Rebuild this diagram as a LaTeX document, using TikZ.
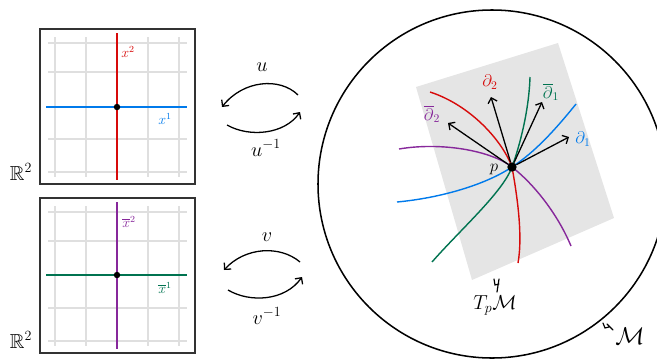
\documentclass[tikz,border=0pt]{standalone}
\usepackage{amssymb}
\usetikzlibrary{arrows.meta,calc}
\definecolor{cred}{RGB}{215,10,10}
\definecolor{cblue}{RGB}{0,122,235}
\definecolor{cgreen}{RGB}{0,115,80}
\definecolor{cpurple}{RGB}{135,40,155}
\tikzset{
  grd/.style={draw=gray!25,line width=1.6pt},
  chart/.style={draw=black!80,line width=1.2pt},
  ax/.style={line width=1pt},
  crv/.style={line width=1.2pt},
  tang/.style={-{Straight Barb[length=4pt,width=8pt]},line width=1.1pt},
  mapto/.style={-{Straight Barb[length=4pt,width=8pt]},line width=1.1pt},
  dot/.style={circle,fill=black,inner sep=0pt,minimum size=5.5pt},
}

\begin{document}
\begin{tikzpicture}[x=0.03cm,y=-0.03cm,font=\Large]
  \useasboundingbox (0,0) rectangle (657,359);
  % chart u
  \foreach \gx in {55,86,148,179} \draw[grd] (\gx,37) -- (\gx,177);
  \foreach \gy in {43,72,139,172} \draw[grd] (48,\gy) -- (187,\gy);
  \draw[chart] (40,29) rectangle (195,184);
  \draw[ax,cred] (117,33) -- (117,180);
  \draw[ax,cblue] (46,107) -- (187,107);
  \node[dot] (o1) at (117,107) {};
  \node[cred,font=\large] (x2) at (128,52) {$x^2$};
  \node[cblue,font=\large] (x1) at (165,119) {$x^1$};
  \node[font=\LARGE] (r1) at (21,172) {$\mathbb{R}^2$};
  % chart v
  \foreach \gx in {55,86,148,179} \draw[grd] (\gx,206) -- (\gx,346);
  \foreach \gy in {212,241,308,341} \draw[grd] (48,\gy) -- (187,\gy);
  \draw[chart] (40,198) rectangle (195,353);
  \draw[ax,cpurple] (117,202) -- (117,349);
  \draw[ax,cgreen] (46,275) -- (187,275);
  \node[dot] (o2) at (117,275) {};
  \node[cpurple,font=\large] (y2) at (129,222) {$\overline{x}^2$};
  \node[cgreen,font=\large] (y1) at (165,288) {$\overline{x}^1$};
  \node[font=\LARGE] (r2) at (21,340) {$\mathbb{R}^2$};
  % maps
  \coordinate (ua) at (298,95);  \coordinate (ub) at (222,107);
  \coordinate (uc) at (227,125); \coordinate (ud) at (300,112);
  \draw[mapto] (ua) .. controls (280,77) and (243,80) .. (ub);
  \draw[mapto] (uc) .. controls (250,138) and (285,134) .. (ud);
  \node[font=\LARGE] (lu) at (262,67) {$u$};
  \node[font=\LARGE] (lui) at (266,148) {$u^{-1}$};
  \coordinate (va) at (300,262); \coordinate (vb) at (224,270);
  \coordinate (vc) at (228,290); \coordinate (vd) at (302,277);
  \draw[mapto] (va) .. controls (280,245) and (245,247) .. (vb);
  \draw[mapto] (vc) .. controls (250,303) and (285,301) .. (vd);
  \node[font=\LARGE] (lv) at (267,237) {$v$};
  \node[font=\LARGE] (lvi) at (267,316) {$v^{-1}$};
  % manifold
  \draw[line width=1.3pt] (492,184) circle[radius=5.22cm];
  \fill[gray!20] (416,87) -- (558,43) -- (614,218) -- (472,280) -- cycle;
  \coordinate (p) at (512,167);
  \draw[crv,cred] (430,92) .. controls (470,105) and (502,140) .. (p)
    .. controls (517,195) and (523,235) .. (518,263);
  \draw[crv,cgreen] (530,77) .. controls (529,110) and (520,145) .. (p)
    .. controls (503,192) and (460,230) .. (432,262);
  \draw[crv,cblue] (576,104) .. controls (555,130) and (535,152) .. (p)
    .. controls (485,185) and (440,198) .. (397,202);
  \draw[crv,cpurple] (399,149) .. controls (440,142) and (490,150) .. (p)
    .. controls (535,185) and (558,215) .. (571,246);
  \node[dot,minimum size=8pt] (pt) at (p) {};
  \coordinate (t2) at (491,97);
  \coordinate (s1) at (542,102);
  \coordinate (t1) at (569,137);
  \coordinate (s2) at (448,123);
  \draw[tang] (pt) -- (t2);
  \draw[tang] (pt) -- (s1);
  \draw[tang] (pt) -- (t1);
  \draw[tang] (pt) -- (s2);
  \node[cred] (lt2) at (490,82) {$\partial_2$};
  \node[cgreen] (ls1) at (551,92) {$\overline{\partial}_1$};
  \node[cblue] (lt1) at (583,139) {$\partial_1$};
  \node[cpurple] (ls2) at (432,114) {$\overline{\partial}_2$};
  \node (lp) at (494,170) {$p$};
  % labels
  \draw[line width=1pt,line cap=round] (494,279) -- (495,285) -- (499,284)
    (499,279) -- (497,292);
  \node[font=\LARGE] (tpm) at (495,305) {$T_p\mathcal{M}$};
  \draw[line width=1pt,line cap=round] (603,323) -- (605,328) -- (609,327)
    (607,324) -- (613,330);
  \node[font=\huge] (lm) at (630,336) {$\mathcal{M}$};
\end{tikzpicture}
\end{document}
